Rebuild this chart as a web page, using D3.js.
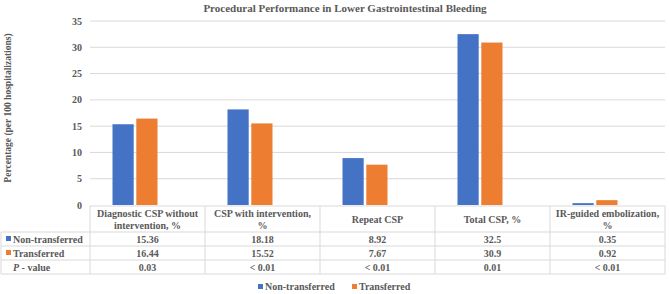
<!DOCTYPE html>
<html>
<head>
<meta charset="utf-8">
<script src="https://cdn.jsdelivr.net/npm/d3@7"></script>
<style>
  body { margin: 0; background: #fff; }
  svg text { font-family: 'Liberation Serif', 'DejaVu Serif', serif; fill: #595959; }
</style>
</head>
<body>
<svg id="chart" width="669" height="294"></svg>
<script>
const categories = [
    ['Diagnostic CSP without', 'intervention, %'],
    ['CSP with intervention,', '%'],
    ['Repeat CSP'],
    ['Total CSP, %'],
    ['IR-guided embolization,', '%']
];
const nonTransferred = [15.36, 18.18, 8.92, 32.5, 0.35];
const transferred = [16.44, 15.52, 7.67, 30.9, 0.92];
const nonTransferredLabels = ['15.36', '18.18', '8.92', '32.5', '0.35'];
const transferredLabels = ['16.44', '15.52', '7.67', '30.9', '0.92'];
const pValues = ['0.03', '< 0.01', '< 0.01', '0.01', '< 0.01'];
const yTicks = [0, 5, 10, 15, 20, 25, 30, 35];

const BLUE = '#4472C4';
const ORANGE = '#ED7D31';
const GRID = '#d9d9d9';
const FONT = "'Liberation Serif', 'DejaVu Serif', serif";

const svg = d3.select('#chart');

const plotLeft = 90, plotRight = 665, plotTop = 21, plotBottom = 205;
const tableRows = [206, 232, 246, 260, 274];

const y = d3.scaleLinear().domain([0, 35]).range([plotBottom, plotTop]);
const x = d3.scaleBand().domain(d3.range(categories.length)).range([plotLeft, plotRight]);
// bars sit a little left of the column centre in the original
const barShift = -12.5;
const xs = d3.scaleBand().domain(['n', 't']).range([0, 45]).paddingInner(0.11);

function label(sel, size) {
    return sel.style('font-family', FONT)
        .style('font-size', size || '10px')
        .style('font-weight', 'bold');
}

// title
label(svg.append('text'), '11px')
    .attr('x', 345).attr('y', 12)
    .attr('text-anchor', 'middle')
    .text('Procedural Performance in Lower Gastrointestinal Bleeding');

// gridlines
svg.append('g').selectAll('line')
    .data(yTicks.filter(d => d > 0))
    .join('line')
    .attr('x1', plotLeft).attr('x2', plotRight)
    .attr('y1', d => y(d)).attr('y2', d => y(d))
    .attr('stroke', GRID).attr('stroke-width', 1);

// tick labels
label(svg.append('g').selectAll('text')
    .data(yTicks)
    .join('text'))
    .attr('x', 82)
    .attr('y', d => y(d) + 3.5)
    .attr('text-anchor', 'end')
    .text(d => d);

// y label
label(svg.append('text'), '9.5px')
    .attr('transform', 'translate(11,108) rotate(-90)')
    .attr('text-anchor', 'middle')
    .text('Percentage (per 100 hospitalizations)');

// bars
const groups = svg.append('g').selectAll('g')
    .data(categories.map((c, i) => i))
    .join('g')
    .attr('transform', i => `translate(${x(i) + x.bandwidth() / 2 + barShift - 22.5},0)`);

groups.append('rect')
    .attr('x', xs('n'))
    .attr('width', xs.bandwidth())
    .attr('y', i => y(nonTransferred[i]))
    .attr('height', i => y(0) - y(nonTransferred[i]))
    .attr('fill', BLUE);

groups.append('rect')
    .attr('x', xs('t'))
    .attr('width', xs.bandwidth())
    .attr('y', i => y(transferred[i]))
    .attr('height', i => y(0) - y(transferred[i]))
    .attr('fill', ORANGE);

// data table
const table = svg.append('g');

table.append('line')
    .attr('x1', plotLeft).attr('x2', plotRight)
    .attr('y1', tableRows[0]).attr('y2', tableRows[0])
    .attr('stroke', GRID);
table.selectAll('line.h')
    .data(tableRows.slice(1))
    .join('line')
    .attr('class', 'h')
    .attr('x1', 1).attr('x2', plotRight)
    .attr('y1', d => d).attr('y2', d => d)
    .attr('stroke', GRID);

const colEdges = d3.range(categories.length + 1).map(i => plotLeft + i * x.step());
table.selectAll('line.v')
    .data(colEdges)
    .join('line')
    .attr('class', 'v')
    .attr('x1', d => d).attr('x2', d => d)
    .attr('y1', tableRows[0]).attr('y2', tableRows[4])
    .attr('stroke', GRID);
table.append('line')
    .attr('x1', 1).attr('x2', 1)
    .attr('y1', tableRows[1]).attr('y2', tableRows[4])
    .attr('stroke', GRID);

// header text
categories.forEach((lines, i) => {
    const cx = x(i) + x.bandwidth() / 2;
    const mid = (tableRows[0] + tableRows[1]) / 2;
    const lh = 12;
    lines.forEach((ln, j) => {
        label(table.append('text'))
            .attr('x', cx)
            .attr('y', mid + 3.5 + (j - (lines.length - 1) / 2) * lh)
            .attr('text-anchor', 'middle')
            .text(ln);
    });
});

const rows = [
    { labels: nonTransferredLabels, color: BLUE, name: 'Non-transferred' },
    { labels: transferredLabels, color: ORANGE, name: 'Transferred' },
    { labels: pValues, color: null, name: 'P-value' }
];

rows.forEach((r, ri) => {
    const cy = (tableRows[ri + 1] + tableRows[ri + 2]) / 2;
    if (r.color) {
        table.append('rect')
            .attr('x', 6).attr('y', cy - 3)
            .attr('width', 5).attr('height', 5)
            .attr('fill', r.color);
        label(table.append('text'))
            .attr('x', 13).attr('y', cy + 3.5)
            .text(r.name);
    } else {
        const t = label(table.append('text'))
            .attr('x', 13).attr('y', cy + 3.5);
        t.append('tspan').style('font-style', 'italic').text('P');
        t.append('tspan').text(' - value');
    }
    r.labels.forEach((v, i) => {
        label(table.append('text'))
            .attr('x', x(i) + x.bandwidth() / 2)
            .attr('y', cy + 3.5)
            .attr('text-anchor', 'middle')
            .text(v);
    });
});

// legend
const legend = svg.append('g');
const legendItems = [
    { name: 'Non-transferred', color: BLUE, x: 258 },
    { name: 'Transferred', color: ORANGE, x: 352 }
];
legendItems.forEach(d => {
    legend.append('rect')
        .attr('x', d.x).attr('y', 284)
        .attr('width', 5).attr('height', 5)
        .attr('fill', d.color);
    label(legend.append('text'))
        .attr('x', d.x + 7).attr('y', 290)
        .text(d.name);
});
</script>
</body>
</html>
